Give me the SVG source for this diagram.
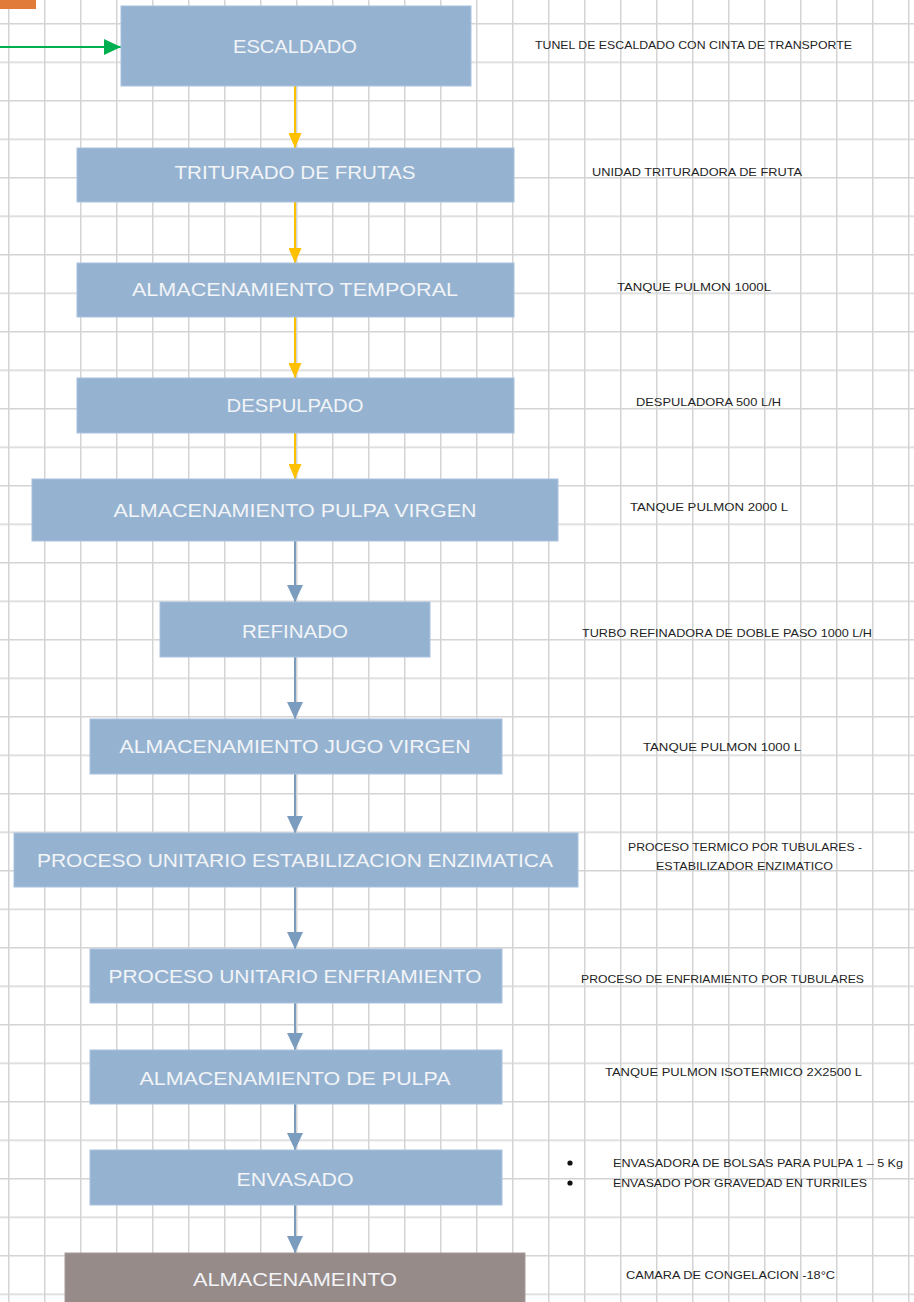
<svg xmlns="http://www.w3.org/2000/svg" width="914" height="1302" viewBox="0 0 914 1302">
<style>
.box{fill:#95b3d1;stroke:#a9c2dc;stroke-width:1}
.box2{fill:#968b89;stroke:#a69c9a;stroke-width:1}
.nt{font-family:"Liberation Sans",Arial,sans-serif;font-size:19px;fill:#f2f4f7;text-anchor:middle;dominant-baseline:central}
.lb{font-family:"Liberation Sans",Arial,sans-serif;font-size:11.5px;fill:#1f1f1f;dominant-baseline:central}
.co{stroke:#ffc000;stroke-width:2;fill:none}
.cb{stroke:#7a9cbf;stroke-width:2;fill:none}
.cg{stroke:#00b050;stroke-width:2;fill:none}
</style>
<defs>
<pattern id="grid" patternUnits="userSpaceOnUse" x="8" y="23" width="36" height="38.5">
<path d="M0.75 0V38.5M0 0.75H36" stroke="#d4d4d4" stroke-width="1.5" fill="none"/>
</pattern>
<marker id="ao" markerUnits="userSpaceOnUse" markerWidth="15" markerHeight="13" refX="15" refY="6.5" orient="auto" viewBox="0 0 15 13">
<path d="M0 0L15 6.5L0 13Z" fill="#ffc000"/>
</marker>
<marker id="ab" markerUnits="userSpaceOnUse" markerWidth="17" markerHeight="16" refX="17" refY="8" orient="auto" viewBox="0 0 17 16">
<path d="M0 0L17 8L0 16Z" fill="#7a9cbf"/>
</marker>
<marker id="ag" markerUnits="userSpaceOnUse" markerWidth="17" markerHeight="16" refX="17" refY="8" orient="auto" viewBox="0 0 17 16">
<path d="M0 0L17 8L0 16Z" fill="#00b050"/>
</marker>
</defs>
<rect width="914" height="1302" fill="#ffffff"/>
<rect width="914" height="1302" fill="url(#grid)"/>
<rect x="0" y="0" width="36" height="9" fill="#e07b39"/>

<g id="connectors">
<line class="cg" x1="0" y1="47" x2="121" y2="47" marker-end="url(#ag)"/>
<line class="co" x1="295" y1="86" x2="295" y2="148" marker-end="url(#ao)"/>
<line class="co" x1="295" y1="202" x2="295" y2="263" marker-end="url(#ao)"/>
<line class="co" x1="295" y1="317" x2="295" y2="378" marker-end="url(#ao)"/>
<line class="co" x1="295" y1="433" x2="295" y2="479" marker-end="url(#ao)"/>
<line class="cb" x1="295" y1="541" x2="295" y2="602" marker-end="url(#ab)"/>
<line class="cb" x1="295" y1="657" x2="295" y2="719" marker-end="url(#ab)"/>
<line class="cb" x1="295" y1="774" x2="295" y2="833" marker-end="url(#ab)"/>
<line class="cb" x1="295" y1="887" x2="295" y2="949" marker-end="url(#ab)"/>
<line class="cb" x1="295" y1="1003" x2="295" y2="1050" marker-end="url(#ab)"/>
<line class="cb" x1="295" y1="1104" x2="295" y2="1150" marker-end="url(#ab)"/>
<line class="cb" x1="295" y1="1205" x2="295" y2="1253" marker-end="url(#ab)"/>
</g>

<g id="n1"><rect class="box" x="121" y="6" width="350" height="80"/><text class="nt" x="295" y="46" textLength="124" lengthAdjust="spacingAndGlyphs">ESCALDADO</text></g>
<g id="n2"><rect class="box" x="77" y="148" width="437" height="54"/><text class="nt" x="295" y="172" textLength="241" lengthAdjust="spacingAndGlyphs">TRITURADO DE FRUTAS</text></g>
<g id="n3"><rect class="box" x="77" y="263" width="437" height="54"/><text class="nt" x="295" y="289" textLength="326" lengthAdjust="spacingAndGlyphs">ALMACENAMIENTO TEMPORAL</text></g>
<g id="n4"><rect class="box" x="77" y="378" width="437" height="55"/><text class="nt" x="295" y="405" textLength="137" lengthAdjust="spacingAndGlyphs">DESPULPADO</text></g>
<g id="n5"><rect class="box" x="32" y="479" width="526" height="62"/><text class="nt" x="295" y="510" textLength="363" lengthAdjust="spacingAndGlyphs">ALMACENAMIENTO PULPA VIRGEN</text></g>
<g id="n6"><rect class="box" x="160" y="602" width="270" height="55"/><text class="nt" x="295" y="631" textLength="106" lengthAdjust="spacingAndGlyphs">REFINADO</text></g>
<g id="n7"><rect class="box" x="90" y="719" width="412" height="55"/><text class="nt" x="295" y="746" textLength="351" lengthAdjust="spacingAndGlyphs">ALMACENAMIENTO JUGO VIRGEN</text></g>
<g id="n8"><rect class="box" x="14" y="833" width="564" height="54"/><text class="nt" x="295" y="860" textLength="516" lengthAdjust="spacingAndGlyphs">PROCESO UNITARIO ESTABILIZACION ENZIMATICA</text></g>
<g id="n9"><rect class="box" x="90" y="949" width="412" height="54"/><text class="nt" x="295" y="976" textLength="373" lengthAdjust="spacingAndGlyphs">PROCESO UNITARIO ENFRIAMIENTO</text></g>
<g id="n10"><rect class="box" x="90" y="1050" width="412" height="54"/><text class="nt" x="295" y="1078" textLength="311" lengthAdjust="spacingAndGlyphs">ALMACENAMIENTO DE PULPA</text></g>
<g id="n11"><rect class="box" x="90" y="1150" width="412" height="55"/><text class="nt" x="295" y="1179" textLength="117" lengthAdjust="spacingAndGlyphs">ENVASADO</text></g>
<g id="n12"><rect class="box2" x="65" y="1253" width="460" height="60"/><text class="nt" x="295" y="1279" textLength="204" lengthAdjust="spacingAndGlyphs">ALMACENAMEINTO</text></g>

<g id="labels">
<text class="lb" x="535" y="45" textLength="317" lengthAdjust="spacingAndGlyphs">TUNEL DE ESCALDADO CON CINTA DE TRANSPORTE</text>
<text class="lb" x="592" y="172" textLength="210" lengthAdjust="spacingAndGlyphs">UNIDAD TRITURADORA DE FRUTA</text>
<text class="lb" x="617" y="287" textLength="154" lengthAdjust="spacingAndGlyphs">TANQUE PULMON 1000L</text>
<text class="lb" x="636" y="402" textLength="145" lengthAdjust="spacingAndGlyphs">DESPULADORA 500 L/H</text>
<text class="lb" x="630" y="507" textLength="158" lengthAdjust="spacingAndGlyphs">TANQUE PULMON 2000 L</text>
<text class="lb" x="582" y="633" textLength="290" lengthAdjust="spacingAndGlyphs">TURBO REFINADORA DE DOBLE PASO 1000 L/H</text>
<text class="lb" x="643" y="747" textLength="158" lengthAdjust="spacingAndGlyphs">TANQUE PULMON 1000 L</text>
<text class="lb" x="628" y="847" textLength="234" lengthAdjust="spacingAndGlyphs">PROCESO TERMICO POR TUBULARES -</text>
<text class="lb" x="656" y="866" textLength="177" lengthAdjust="spacingAndGlyphs">ESTABILIZADOR ENZIMATICO</text>
<text class="lb" x="581" y="979" textLength="283" lengthAdjust="spacingAndGlyphs">PROCESO DE ENFRIAMIENTO POR TUBULARES</text>
<text class="lb" x="605" y="1072" textLength="257" lengthAdjust="spacingAndGlyphs">TANQUE PULMON ISOTERMICO 2X2500 L</text>
<circle cx="570" cy="1163" r="2.6" fill="#111"/>
<circle cx="570" cy="1183" r="2.6" fill="#111"/>
<text class="lb" x="613" y="1163" textLength="290" lengthAdjust="spacingAndGlyphs">ENVASADORA DE BOLSAS PARA PULPA 1 – 5 Kg</text>
<text class="lb" x="613" y="1183" textLength="254" lengthAdjust="spacingAndGlyphs">ENVASADO POR GRAVEDAD EN TURRILES</text>
<text class="lb" x="626" y="1275" textLength="209" lengthAdjust="spacingAndGlyphs">CAMARA DE CONGELACION -18°C</text>
</g>
</svg>
